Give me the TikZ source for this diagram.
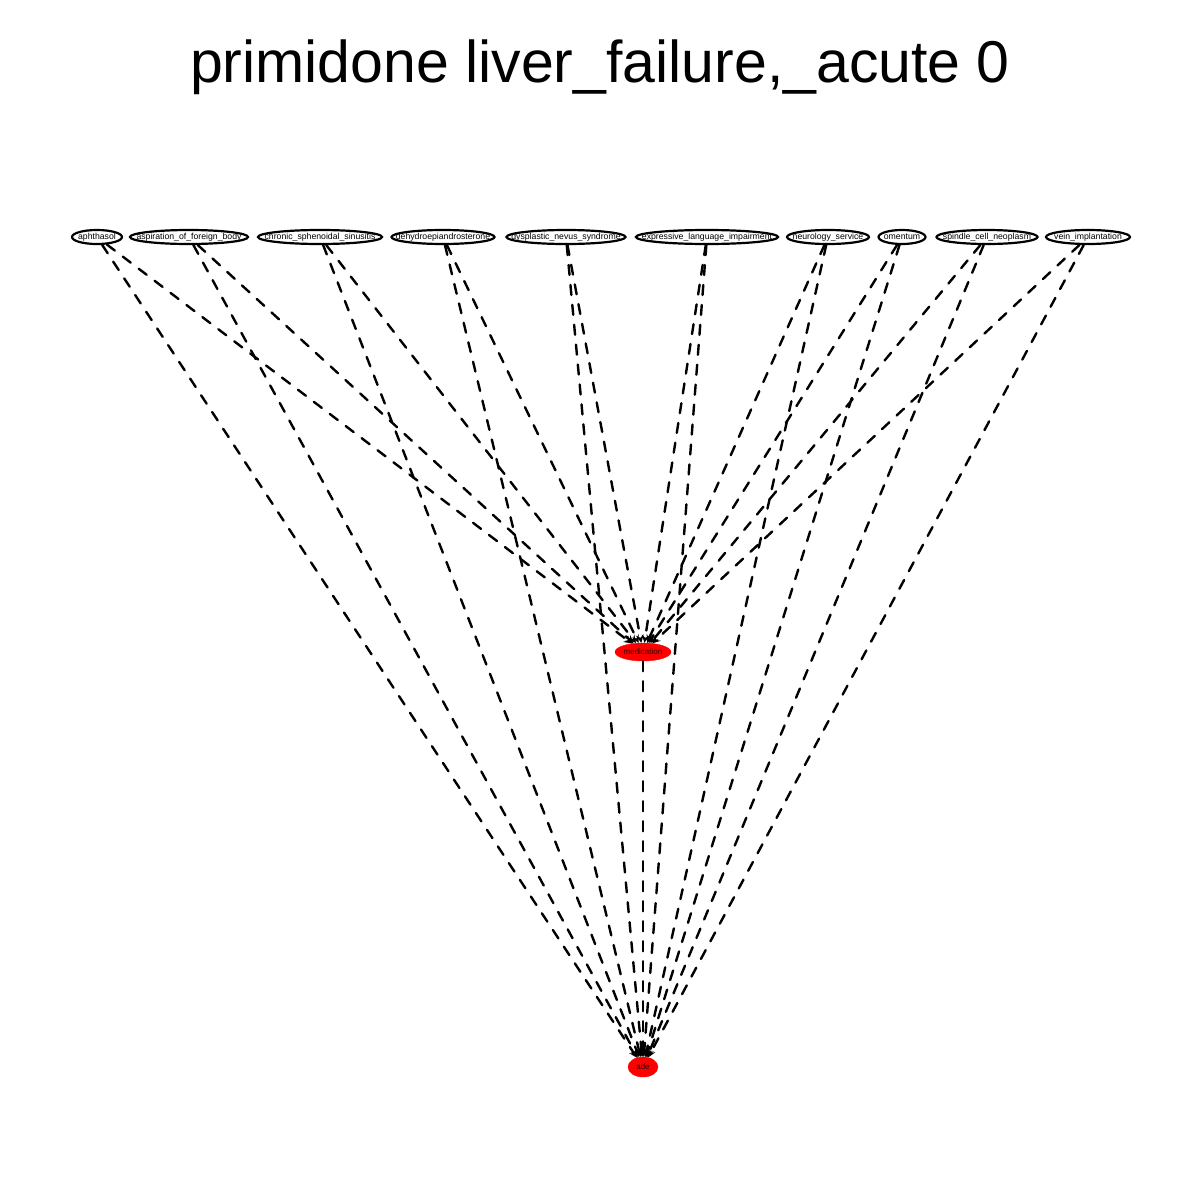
\documentclass[tikz,border=0pt]{standalone}
\usepackage{fontspec}
\setmainfont{Liberation Sans}
\usetikzlibrary{shapes.geometric,arrows}
\newcommand{\tightlabel}[1]{\makebox[0pt]{#1}}

\begin{document}
\begin{tikzpicture}[x=1pt, y=-1pt]
    \tikzstyle{term} = [ellipse, draw=black, line width=2.2pt, fill=white, inner sep=0pt, minimum height=14pt, font=\fontsize{8.7}{9}\selectfont]
    \tikzstyle{hub} = [ellipse, draw=red, fill=red, inner sep=0pt, text=black!80!red, font=\fontsize{8}{8}\selectfont]
    \tikzstyle{link} = [->, >=stealth, dashed, dash pattern=on 10pt off 10pt, line cap=round, line width=2.4pt]

    \useasboundingbox (0,0) rectangle (1200,1200);

    % Title
    \node [anchor=base] (title) at (600,82) {\fontsize{59}{59}\selectfont primidone liver\_failure,\_acute 0};

    % Upper row of terms
    \node [term, minimum width=50pt] (aphthasol) at (97,237) {\tightlabel{aphthasol}};
    \node [term, minimum width=118pt] (aspiration) at (189,237) {\tightlabel{aspiration\_of\_foreign\_body}};
    \node [term, minimum width=124pt] (sinusitis) at (320,237) {\tightlabel{chronic\_sphenoidal\_sinusitis}};
    \node [term, minimum width=103pt] (dhea) at (443,237) {\tightlabel{dehydroepiandrosterone}};
    \node [term, minimum width=119pt] (nevus) at (566,237) {\tightlabel{dysplastic\_nevus\_syndrome}};
    \node [term, minimum width=142pt] (language) at (707,237) {\tightlabel{expressive\_language\_impairment}};
    \node [term, minimum width=82pt] (neurology) at (828,237) {\tightlabel{neurology\_service}};
    \node [term, minimum width=47pt] (omentum) at (902,237) {\tightlabel{omentum}};
    \node [term, minimum width=101pt] (spindle) at (987,237) {\tightlabel{spindle\_cell\_neoplasm}};
    \node [term, minimum width=84pt] (vein) at (1088,237) {\tightlabel{vein\_implantation}};

    % Drug and reaction
    \node [hub, minimum width=56pt, minimum height=18pt] (medication) at (643,652) {\tightlabel{medication}};
    \node [hub, minimum width=30pt, minimum height=20pt] (ade) at (643,1067) {\tightlabel{ade}};

    % Arrows to medication
    \draw [link] (aphthasol) -- (medication);
    \draw [link] (aspiration) -- (medication);
    \draw [link] (sinusitis) -- (medication);
    \draw [link] (dhea) -- (medication);
    \draw [link] (nevus) -- (medication);
    \draw [link] (language) -- (medication);
    \draw [link] (neurology) -- (medication);
    \draw [link] (omentum) -- (medication);
    \draw [link] (spindle) -- (medication);
    \draw [link] (vein) -- (medication);

    % Arrows to ade
    \draw [link] (aphthasol) -- (ade);
    \draw [link] (aspiration) -- (ade);
    \draw [link] (sinusitis) -- (ade);
    \draw [link] (dhea) -- (ade);
    \draw [link] (nevus) -- (ade);
    \draw [link] (language) -- (ade);
    \draw [link] (neurology) -- (ade);
    \draw [link] (omentum) -- (ade);
    \draw [link] (spindle) -- (ade);
    \draw [link] (vein) -- (ade);
    \draw [link] (medication) -- (ade);
\end{tikzpicture}
\end{document}
